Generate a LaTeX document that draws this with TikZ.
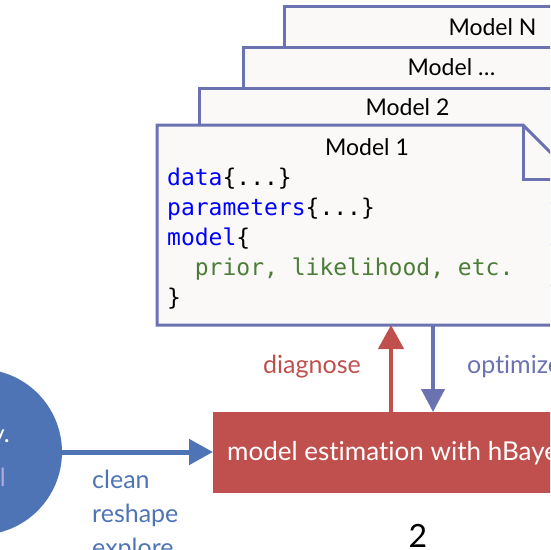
\documentclass[tikz,border=0pt]{standalone}
\usepackage{fontspec}
\setmainfont{Lato}[Ligatures={NoCommon,NoRare}]
\setmonofont{DejaVu Sans Mono}
\usetikzlibrary{arrows.meta,positioning,calc}
\definecolor{modelline}{RGB}{107,114,178}
\definecolor{modelfill}{RGB}{250,249,248}
\definecolor{estred}{RGB}{192,80,77}
\definecolor{rawblue}{RGB}{79,116,182}
\definecolor{rawtext}{RGB}{176,168,214}
\definecolor{codeblue}{RGB}{0,0,255}
\definecolor{codegreen}{RGB}{76,125,56}

\begin{document}
\begin{tikzpicture}[x=1pt,y=-1pt,>={Triangle[length=24pt,width=25pt]},
  modelbox/.style={draw=modelline,fill=modelfill,line width=3pt,inner sep=0pt,
    anchor=north west,minimum width=416pt,minimum height=197pt},
  modeltitle/.style={anchor=base,inner sep=0pt,font=\fontsize{23}{27}\selectfont},
  code/.style={anchor=base west,inner sep=0pt,font=\ttfamily\fontsize{23}{30}\selectfont},
  lbl/.style={anchor=base west,inner sep=0pt,font=\fontsize{25}{30}\selectfont}]
\useasboundingbox (0,0) rectangle (550,550);
\clip (0,0) rectangle (550,550);
  % Node: raw
  \node [circle,fill=rawblue,minimum size=166pt,inner sep=0pt] (raw) at (-21,452) {};
  \node [lbl,anchor=base east,text=white] at (10,442) {y.};
  \node [lbl,anchor=base east,text=rawtext] at (6,486) {l};
  % Node: mN
  \node [modelbox] (mN) at (283,5) {};
  \node [modeltitle] at ([yshift=-30pt]mN.north) {Model N};
  % Node: mdots
  \node [modelbox] (mdots) at (242,46) {};
  \node [modeltitle] at ([yshift=-29pt]mdots.north) {Model \dots};
  % Node: m2
  \node [modelbox] (m2) at (198,87) {};
  \node [modeltitle] at ([yshift=-28pt]m2.north) {Model 2};
  % Node: m1
  \node [modelbox,draw=none,fill=none,minimum width=417pt] (m1) at (157,125) {};
  \draw [draw=modelline,fill=modelfill,line width=3pt,line join=miter]
    (m1.north west) -- ([xshift=-54pt]m1.north east) -- ([yshift=-54pt]m1.north east)
    -- (m1.south east) -- (m1.south west) -- cycle;
  \draw [modelline,line width=3pt] ([xshift=-54pt]m1.north east) |- ([yshift=-54pt]m1.north east);
  \node [modeltitle] at ([yshift=-30pt]m1.north) {Model 1};
  \node [code] at (167,185) {\textcolor{codeblue}{data}\{...\}};
  \node [code] at (167,215) {\textcolor{codeblue}{parameters}\{...\}};
  \node [code] at (167,245) {\textcolor{codeblue}{model}\{};
  \node [code] at (167,275) {\textcolor{codegreen}{\ \ prior, likelihood, etc.}};
  \node [code] at (167,305) {\}};
  % Node: est
  \node [fill=estred,text=white,anchor=north west,minimum height=81pt,inner xsep=14pt,
    font=\fontsize{26}{30}\selectfont] (est) at (213,412) {model estimation with hBayesDM};
  % Edge: raw -> est
  \draw [->,rawblue,line width=5pt] (raw.east) -- (raw.east -| est.west);
  \node [lbl,text=rawblue] at (92,488) {clean};
  \node [lbl,text=rawblue] at (92,522) {reshape};
  \node [lbl,text=rawblue] at (92,556) {explore};
  % Edge: est -> m1 (diagnose)
  \coordinate (dg) at (391,0);
  \draw [->,estred,line width=4.5pt] (dg |- est.north) -- (dg |- m1.south);
  \node [lbl,text=estred] at (263,373) {diagnose};
  % Edge: m1 -> est (optimize)
  \coordinate (op) at (433,0);
  \draw [->,modelline,line width=4pt,>={Triangle[length=23pt,width=23pt]}] (op |- m1.south) -- (op |- est.north);
  \node [lbl,text=modelline] at (467,373) {optimize};
  % Node: step number
  \node [anchor=base,inner sep=0pt,font=\fontsize{32}{36}\selectfont] (num) at (418,547) {2};
\end{tikzpicture}
\end{document}
